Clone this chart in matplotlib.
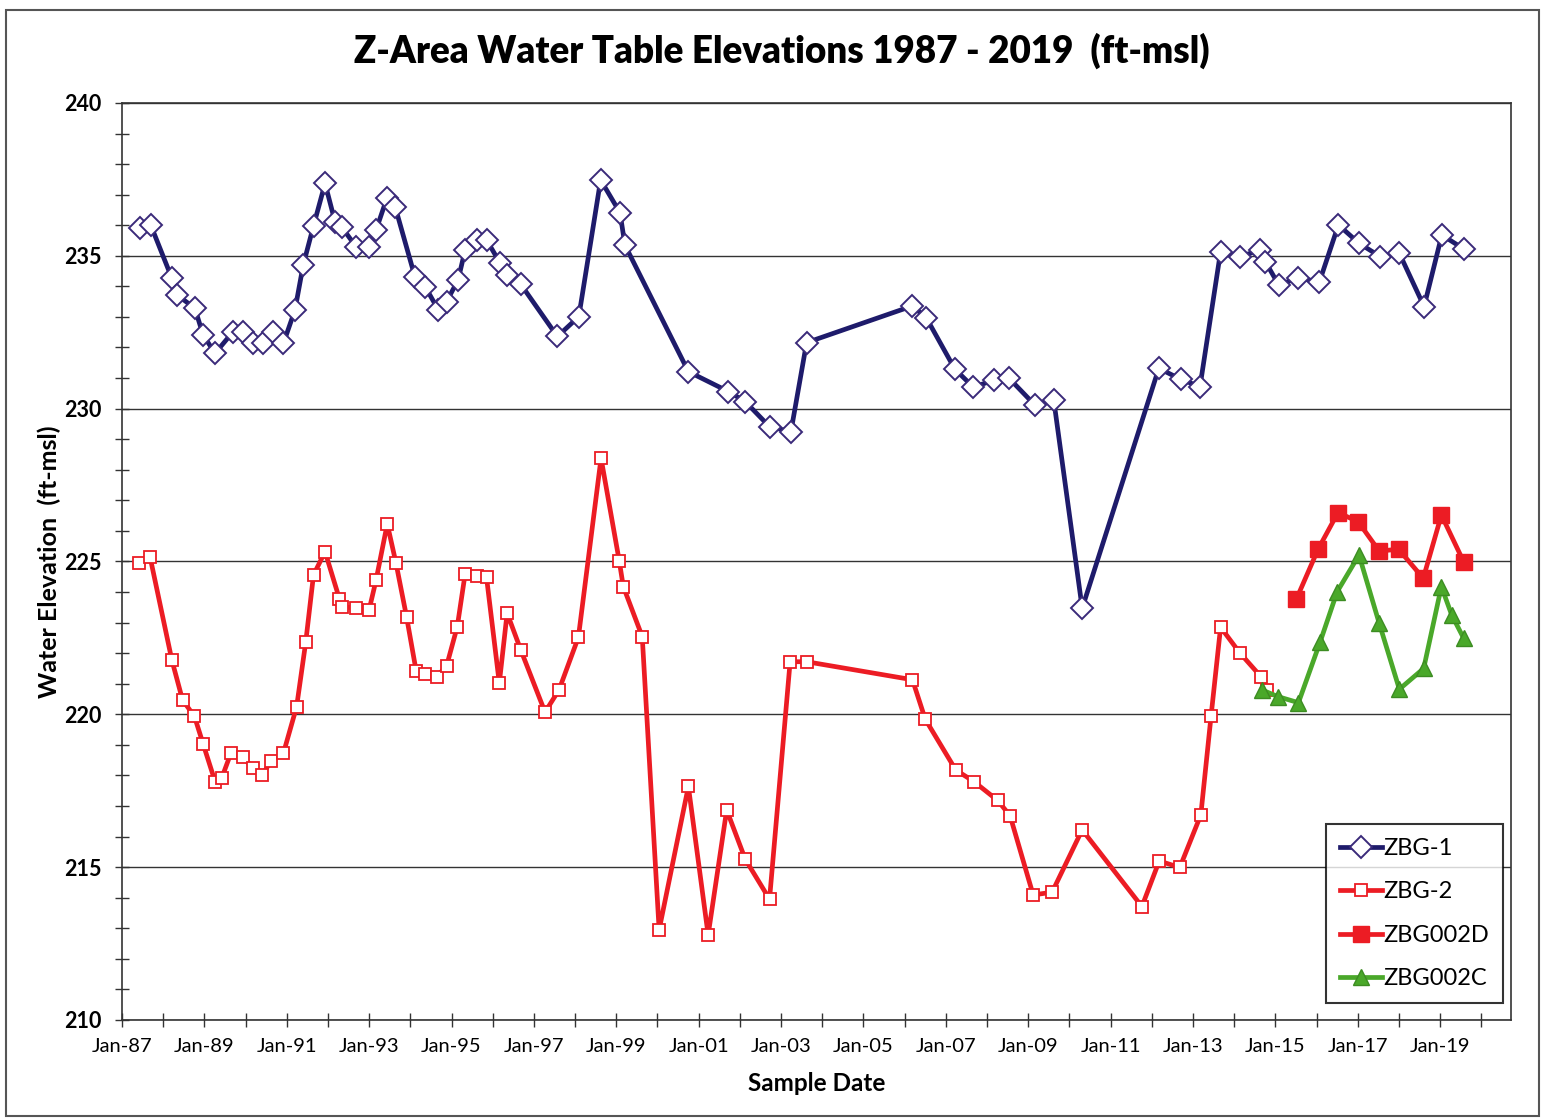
import matplotlib
matplotlib.use("Agg")
import matplotlib.pyplot as plt
from matplotlib.ticker import MultipleLocator, FixedLocator
from matplotlib.patches import Rectangle

plt.rcParams['font.family'] = ['Lato', 'DejaVu Sans']

# ---------------- data (decimal year, ft-msl) ----------------
zbg1_x = [1987.44, 1987.70, 1988.21, 1988.34, 1988.77, 1988.97, 1989.26, 1989.70, 1989.94,
          1990.19, 1990.43, 1990.67, 1990.92, 1991.20, 1991.40, 1991.65, 1991.93, 1992.17,
          1992.33, 1992.68, 1993.00, 1993.17, 1993.43, 1993.63, 1994.11, 1994.36, 1994.68,
          1994.88, 1995.16, 1995.33, 1995.61, 1995.85, 1996.18, 1996.34, 1996.68, 1997.57,
          1998.09, 1998.62, 1999.09, 1999.21, 2000.75, 2001.72, 2002.13, 2002.72, 2003.24,
          2003.62, 2006.19, 2006.53, 2007.22, 2007.67, 2008.18, 2008.53, 2009.16, 2009.62,
          2010.31, 2012.17, 2012.70, 2013.17, 2013.67, 2014.14, 2014.63, 2014.76, 2015.08,
          2015.55, 2016.07, 2016.53, 2017.03, 2017.55, 2018.01, 2018.61, 2019.04, 2019.59]
zbg1_y = [235.9, 236.0, 234.27, 233.72, 233.28, 232.41, 231.81, 232.52, 232.52,
          232.14, 232.14, 232.52, 232.14, 233.23, 234.70, 235.98, 237.37, 236.12,
          235.95, 235.30, 235.30, 235.85, 236.88, 236.61, 234.32, 233.99, 233.23,
          233.50, 234.21, 235.19, 235.52, 235.52, 234.76, 234.37, 234.07, 232.36,
          233.01, 237.48, 236.41, 235.35, 231.21, 230.56, 230.23, 229.41, 229.25,
          232.16, 233.36, 232.96, 231.29, 230.70, 230.94, 231.00, 230.12, 230.28,
          223.47, 231.32, 230.96, 230.72, 235.14, 234.97, 235.19, 234.80, 234.05,
          234.27, 234.15, 236.01, 235.41, 234.97, 235.08, 233.34, 235.68, 235.21]

zbg2_x = [1987.42, 1987.68, 1988.21, 1988.47, 1988.76, 1988.97, 1989.26, 1989.42, 1989.65,
          1989.93, 1990.19, 1990.41, 1990.62, 1990.92, 1991.24, 1991.46, 1991.65, 1991.93,
          1992.28, 1992.35, 1992.68, 1993.00, 1993.17, 1993.44, 1993.65, 1993.91, 1994.14,
          1994.36, 1994.64, 1994.88, 1995.14, 1995.33, 1995.61, 1995.85, 1996.16, 1996.35,
          1996.68, 1997.27, 1997.61, 1998.08, 1998.63, 1999.07, 1999.17, 1999.63, 2000.04,
          2000.75, 2001.23, 2001.68, 2002.13, 2002.72, 2003.22, 2003.62, 2006.19, 2006.50,
          2007.24, 2007.68, 2008.26, 2008.56, 2009.12, 2009.58, 2010.31, 2011.76, 2012.18,
          2012.68, 2013.19, 2013.44, 2013.67, 2014.13, 2014.65, 2014.80]
zbg2_y = [224.94, 225.16, 221.78, 220.47, 219.93, 219.03, 217.80, 217.91, 218.75,
          218.60, 218.24, 218.02, 218.48, 218.73, 220.25, 222.35, 224.56, 225.32,
          223.77, 223.52, 223.47, 223.42, 224.40, 226.23, 224.96, 223.18, 221.43,
          221.32, 221.23, 221.58, 222.87, 224.59, 224.53, 224.48, 221.02, 223.31,
          222.11, 220.07, 220.80, 222.52, 228.38, 225.03, 224.18, 222.54, 212.95,
          217.64, 212.78, 216.87, 215.26, 213.95, 221.72, 221.72, 221.13, 219.84,
          218.18, 217.80, 217.18, 216.68, 214.09, 214.18, 216.22, 213.71, 215.20,
          214.99, 216.71, 219.96, 222.85, 222.02, 221.23, 220.80]

zbg002d_x = [2015.51, 2016.04, 2016.52, 2017.01, 2017.52, 2017.99, 2018.59, 2019.03, 2019.57]
zbg002d_y = [223.77, 225.41, 226.60, 226.30, 225.34, 225.40, 224.45, 226.52, 224.99]

zbg002c_x = [2014.67, 2015.06, 2015.56, 2016.09, 2016.50, 2017.03, 2017.52, 2018.01,
             2018.60, 2019.03, 2019.28, 2019.57]
zbg002c_y = [220.80, 220.58, 220.38, 222.38, 224.01, 225.21, 222.98, 220.82,
             221.50, 224.18, 223.25, 222.49]

tick_years = list(range(1987, 2020, 2))
tick_labels = ['Jan-%02d' % (y % 100) for y in tick_years]

# ---------------- figure ----------------
fig = plt.figure(figsize=(15.42, 11.19), dpi=100)
ax = fig.add_axes([0.0791, 0.0885, 0.9008, 0.8195])

navy = '#1e1b6b'
red = '#ec1c24'
green = '#4aa82a'

ax.plot(zbg1_x, zbg1_y, color=navy, lw=3.4, marker='D', ms=11, mfc='white',
        mec='#3a2a7a', mew=1.4, label='ZBG-1', zorder=4)
ax.plot(zbg2_x, zbg2_y, color=red, lw=3.4, marker='s', ms=9, mfc='white',
        mec=red, mew=1.3, label='ZBG-2', zorder=4)
ax.plot(zbg002d_x, zbg002d_y, color=red, lw=3.4, marker='s', ms=11, mfc=red,
        mec=red, label='ZBG002D', zorder=5)
ax.plot(zbg002c_x, zbg002c_y, color=green, lw=3.4, marker='^', ms=12, mfc=green,
        mec='#3c8c22', mew=1.0, label='ZBG002C', zorder=5)

ax.set_xlim(1987.0, 2020.72)
ax.set_ylim(210, 240)

ax.yaxis.set_major_locator(MultipleLocator(5))
ax.yaxis.set_minor_locator(MultipleLocator(1))
ax.xaxis.set_major_locator(FixedLocator(tick_years))
ax.xaxis.set_minor_locator(MultipleLocator(1))
ax.set_xticklabels(tick_labels)

ax.grid(axis='y', which='major', color='#333333', lw=1.0)
ax.set_axisbelow(True)

for s in ['top', 'right', 'left', 'bottom']:
    ax.spines[s].set_color('#333333')
    ax.spines[s].set_linewidth(1.2)

ax.tick_params(axis='both', which='both', direction='inout', length=10, width=1,
               color='#333333')
ax.tick_params(axis='y', which='major', labelsize=15.5, pad=10)
ax.tick_params(axis='x', which='major', labelsize=14.5, pad=8)
for lab in ax.get_yticklabels():
    lab.set_fontweight('bold')

ax.set_xlabel('Sample Date', fontsize=17.5, fontweight='bold', labelpad=12)
ax.set_ylabel('Water Elevation  (ft-msl)', fontsize=18, fontweight='bold', labelpad=2)

fig.text(0.507, 0.955, 'Z-Area Water Table Elevations 1987 - 2019  (ft-msl)',
         ha='center', va='center', fontsize=26.5, fontweight='heavy')

leg = ax.legend(loc='lower right', bbox_to_anchor=(0.9945, 0.018), borderaxespad=0,
                fontsize=17, frameon=True, fancybox=False, edgecolor='black',
                handlelength=1.8, handletextpad=0.05, labelspacing=0.95, borderpad=0.6)
leg.get_frame().set_linewidth(1.5)

fig.patches.append(Rectangle((0.004, 0.003), 0.994, 0.988, transform=fig.transFigure,
                             fill=False, edgecolor='#555555', lw=1.5))

fig.savefig('out.png', dpi=100)
